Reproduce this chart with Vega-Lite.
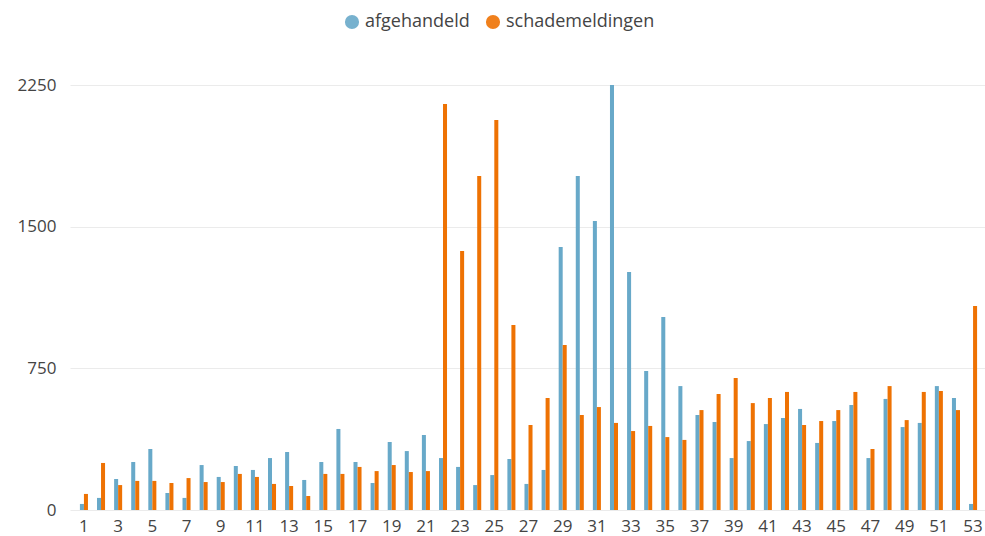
{
  "$schema": "https://vega.github.io/schema/vega-lite/v6.json",
  "autosize": "none",
  "width": 917,
  "height": 425,
  "padding": {"left": 70, "top": 85, "right": 0, "bottom": 26},
  "background": "white",
  "data": {"values": [
    {"week":1,"s":"afgehandeld","v":32},{"week":1,"s":"schademeldingen","v":85},
    {"week":2,"s":"afgehandeld","v":64},{"week":2,"s":"schademeldingen","v":249},
    {"week":3,"s":"afgehandeld","v":164},{"week":3,"s":"schademeldingen","v":132},
    {"week":4,"s":"afgehandeld","v":254},{"week":4,"s":"schademeldingen","v":154},
    {"week":5,"s":"afgehandeld","v":323},{"week":5,"s":"schademeldingen","v":154},
    {"week":6,"s":"afgehandeld","v":90},{"week":6,"s":"schademeldingen","v":143},
    {"week":7,"s":"afgehandeld","v":64},{"week":7,"s":"schademeldingen","v":169},
    {"week":8,"s":"afgehandeld","v":238},{"week":8,"s":"schademeldingen","v":148},
    {"week":9,"s":"afgehandeld","v":175},{"week":9,"s":"schademeldingen","v":148},
    {"week":10,"s":"afgehandeld","v":233},{"week":10,"s":"schademeldingen","v":191},
    {"week":11,"s":"afgehandeld","v":212},{"week":11,"s":"schademeldingen","v":175},
    {"week":12,"s":"afgehandeld","v":275},{"week":12,"s":"schademeldingen","v":138},
    {"week":13,"s":"afgehandeld","v":307},{"week":13,"s":"schademeldingen","v":127},
    {"week":14,"s":"afgehandeld","v":159},{"week":14,"s":"schademeldingen","v":74},
    {"week":15,"s":"afgehandeld","v":254},{"week":15,"s":"schademeldingen","v":191},
    {"week":16,"s":"afgehandeld","v":429},{"week":16,"s":"schademeldingen","v":191},
    {"week":17,"s":"afgehandeld","v":254},{"week":17,"s":"schademeldingen","v":228},
    {"week":18,"s":"afgehandeld","v":143},{"week":18,"s":"schademeldingen","v":206},
    {"week":19,"s":"afgehandeld","v":360},{"week":19,"s":"schademeldingen","v":238},
    {"week":20,"s":"afgehandeld","v":312},{"week":20,"s":"schademeldingen","v":201},
    {"week":21,"s":"afgehandeld","v":397},{"week":21,"s":"schademeldingen","v":206},
    {"week":22,"s":"afgehandeld","v":275},{"week":22,"s":"schademeldingen","v":2149},
    {"week":23,"s":"afgehandeld","v":228},{"week":23,"s":"schademeldingen","v":1371},
    {"week":24,"s":"afgehandeld","v":132},{"week":24,"s":"schademeldingen","v":1768},
    {"week":25,"s":"afgehandeld","v":185},{"week":25,"s":"schademeldingen","v":2065},
    {"week":26,"s":"afgehandeld","v":270},{"week":26,"s":"schademeldingen","v":979},
    {"week":27,"s":"afgehandeld","v":138},{"week":27,"s":"schademeldingen","v":450},
    {"week":28,"s":"afgehandeld","v":212},{"week":28,"s":"schademeldingen","v":593},
    {"week":29,"s":"afgehandeld","v":1392},{"week":29,"s":"schademeldingen","v":873},
    {"week":30,"s":"afgehandeld","v":1768},{"week":30,"s":"schademeldingen","v":503},
    {"week":31,"s":"afgehandeld","v":1530},{"week":31,"s":"schademeldingen","v":545},
    {"week":32,"s":"afgehandeld","v":2250},{"week":32,"s":"schademeldingen","v":461},
    {"week":33,"s":"afgehandeld","v":1260},{"week":33,"s":"schademeldingen","v":418},
    {"week":34,"s":"afgehandeld","v":736},{"week":34,"s":"schademeldingen","v":445},
    {"week":35,"s":"afgehandeld","v":1022},{"week":35,"s":"schademeldingen","v":386},
    {"week":36,"s":"afgehandeld","v":656},{"week":36,"s":"schademeldingen","v":371},
    {"week":37,"s":"afgehandeld","v":503},{"week":37,"s":"schademeldingen","v":529},
    {"week":38,"s":"afgehandeld","v":466},{"week":38,"s":"schademeldingen","v":614},
    {"week":39,"s":"afgehandeld","v":275},{"week":39,"s":"schademeldingen","v":699},
    {"week":40,"s":"afgehandeld","v":365},{"week":40,"s":"schademeldingen","v":566},
    {"week":41,"s":"afgehandeld","v":455},{"week":41,"s":"schademeldingen","v":593},
    {"week":42,"s":"afgehandeld","v":487},{"week":42,"s":"schademeldingen","v":625},
    {"week":43,"s":"afgehandeld","v":535},{"week":43,"s":"schademeldingen","v":450},
    {"week":44,"s":"afgehandeld","v":355},{"week":44,"s":"schademeldingen","v":471},
    {"week":45,"s":"afgehandeld","v":471},{"week":45,"s":"schademeldingen","v":529},
    {"week":46,"s":"afgehandeld","v":556},{"week":46,"s":"schademeldingen","v":625},
    {"week":47,"s":"afgehandeld","v":275},{"week":47,"s":"schademeldingen","v":323},
    {"week":48,"s":"afgehandeld","v":588},{"week":48,"s":"schademeldingen","v":656},
    {"week":49,"s":"afgehandeld","v":439},{"week":49,"s":"schademeldingen","v":476},
    {"week":50,"s":"afgehandeld","v":461},{"week":50,"s":"schademeldingen","v":625},
    {"week":51,"s":"afgehandeld","v":656},{"week":51,"s":"schademeldingen","v":630},
    {"week":52,"s":"afgehandeld","v":593},{"week":52,"s":"schademeldingen","v":529},
    {"week":53,"s":"afgehandeld","v":32},{"week":53,"s":"schademeldingen","v":1080}
  ]},
  "mark": {"type": "bar"},
  "encoding": {
    "x": {
      "field": "week", "type": "ordinal",
      "scale": {"paddingInner": 0.53, "paddingOuter": 0.58},
      "axis": {
        "title": null, "values": [1,3,5,7,9,11,13,15,17,19,21,23,25,27,29,31,33,35,37,39,41,43,45,47,49,51,53],
        "labelAngle": 0, "ticks": false, "domain": false, "labelPadding": 8,
        "labelFontSize": 17, "labelColor": "#444444", "labelFont": "Open Sans"
      }
    },
    "xOffset": {"field": "s", "type": "nominal", "scale": {"paddingInner": 0, "paddingOuter": 0}},
    "y": {
      "field": "v", "type": "quantitative",
      "scale": {"domain": [0, 2250], "nice": false},
      "axis": {
        "title": null, "values": [0, 750, 1500, 2250], "format": "d", "ticks": false, "domain": false,
        "labelPadding": 14, "labelFontSize": 17, "labelColor": "#444444", "labelFont": "Open Sans",
        "gridColor": "#ebebeb", "gridWidth": 1
      }
    },
    "color": {
      "field": "s", "type": "nominal",
      "scale": {"domain": ["afgehandeld", "schademeldingen"], "range": ["#68a9c9", "#ee7203"]},
      "legend": {
        "title": null, "orient": "none", "direction": "horizontal", "legendX": 273, "legendY": -72,
        "symbolType": "circle", "symbolSize": 200, "symbolOpacity": 0.9, "labelFontSize": 18, "labelColor": "#444444",
        "labelFont": "Open Sans", "columnPadding": 14, "symbolStrokeWidth": 0
      }
    }
  },
  "config": {"view": {"stroke": null}}
}
